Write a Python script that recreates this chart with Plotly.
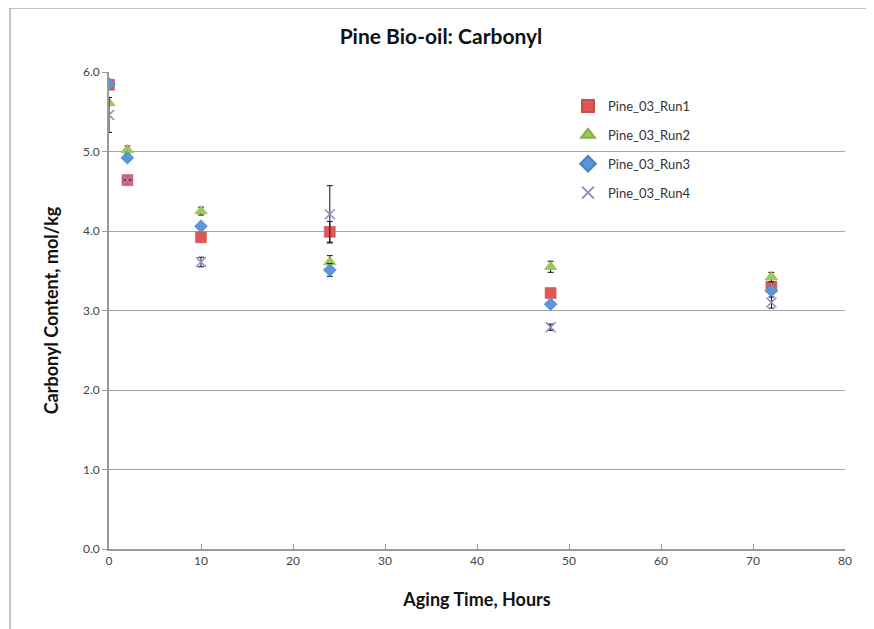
import plotly.graph_objects as go

hours = [0, 2, 10, 24, 48, 72]
run1 = [5.84, 4.64, 3.92, 3.99, 3.22, 3.30]
run2 = [5.61, 5.02, 4.25, 3.61, 3.55, 3.42]
run3 = [5.85, 4.92, 4.06, 3.51, 3.08, 3.25]
run4 = [5.46, 4.64, 3.61, 4.21, 2.79, 3.10]
err1 = [0.0, 0.0, 0.0, 0.13, 0.0, 0.0]
err2 = [0.0, 0.05, 0.05, 0.08, 0.07, 0.06]
err3 = [0.0, 0.0, 0.0, 0.08, 0.0, 0.0]
err4 = [0.22, 0.0, 0.06, 0.36, 0.04, 0.07]
names = ["Pine_03_Run1", "Pine_03_Run2", "Pine_03_Run3", "Pine_03_Run4"]
x_ticks = [0, 10, 20, 30, 40, 50, 60, 70, 80]
y_ticks = [0, 1, 2, 3, 4, 5, 6]

series = [
    (run1, err1, "square", "#E15757", "#C0504D", 11),
    (run2, err2, "triangle-up", "#9BC85A", "#86B043", 11),
    (run3, err3, "diamond", "#5B96DA", "#4A7FC0", 10),
    (run4, err4, "x-thin", "#9A85C4", "#9A85C4", 10),
]

W, H = 866, 621
L, R, T, B = 101, 29, 64, 80
PW, PH = W - L - R, H - T - B

fig = go.Figure()
for i, (name, (vals, err, sym, col, lc, sz)) in enumerate(zip(names, series)):
    fig.add_trace(go.Scatter(
        x=hours, y=vals, name=name, mode="markers", legendgroup="g%d" % i,
        marker=dict(symbol=sym, size=sz, color=col,
                    line=dict(color=lc, width=1.5 if sym == "x-thin" else 0.5)),
        error_y=dict(type="data", array=err, visible=True, color="#111111",
                     thickness=1, width=3),
    ))

fig.update_layout(
    width=W, height=H,
    margin=dict(l=L, r=R, t=T, b=B),
    paper_bgcolor="white", plot_bgcolor="white",
    font=dict(family="Lato, Liberation Sans, sans-serif", color="#222222"),
    title=dict(text="<b>Pine Bio-oil: Carbonyl</b>", x=0.5, xanchor="center",
               y=1 - 29 / H, yref="container", yanchor="middle",
               font=dict(size=21, color="#111111")),
    showlegend=True,
    legend=dict(x=(560 - L) / PW, y=1 - (91 - 72) / PH, xanchor="left", yanchor="top",
                bgcolor="rgba(0,0,0,0)", font=dict(size=13, color="#333333"),
                tracegroupgap=9, itemwidth=30, itemsizing="constant"),
    xaxis=dict(range=[0, 80], tickvals=x_ticks, ticktext=[str(v) for v in x_ticks],
               showgrid=False, zeroline=False, showline=True, linecolor="#999999",
               linewidth=1.5, ticks="inside", ticklen=5, tickcolor="#999999",
               tickfont=dict(size=12, color="#444444"),
               title=dict(text="<b>Aging Time, Hours</b>", font=dict(size=18, color="#111111"),
                          standoff=26)),
    yaxis=dict(range=[0, 6], tickvals=y_ticks, ticktext=["%.1f" % v for v in y_ticks],
               showgrid=True, gridcolor="#A6A6A6", gridwidth=1, zeroline=False,
               showline=True, linecolor="#999999", linewidth=1.5, ticks="outside",
               ticklen=5, tickcolor="#999999",
               tickfont=dict(size=12, color="#444444"),
               title=dict(text="<b>Carbonyl Content, mol/kg</b>", font=dict(size=18, color="#111111"),
                          standoff=20)),
    shapes=[
        dict(type="rect", xref="paper", yref="paper",
             x0=(2 - L) / PW, x1=(W + 2 - L) / PW,
             y0=1 + (T - H - 2) / PH, y1=1 + T / PH,
             line=dict(color="#8C8C8C", width=1), fillcolor="rgba(0,0,0,0)", layer="below"),
    ],
)

fig.write_html("out.html")
